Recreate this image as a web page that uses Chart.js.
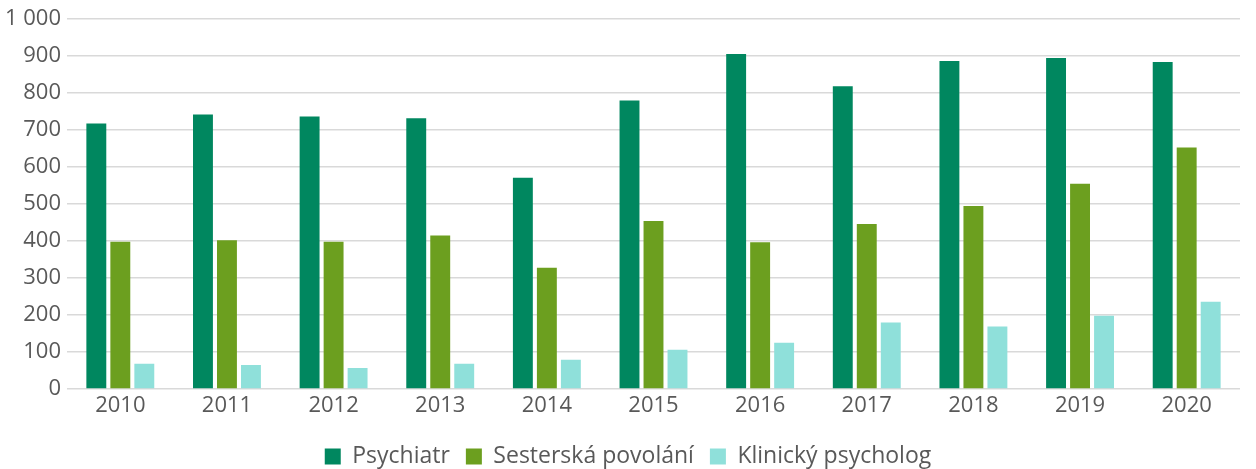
<!DOCTYPE html>
<html><head><meta charset="utf-8">
<script src="https://cdn.jsdelivr.net/npm/chart.js@4"></script>
<style>html,body{margin:0;padding:0;background:#fff}#wrap{width:1256px;height:469px}</style>
</head><body><div id="wrap"><canvas id="c"></canvas></div>
<script>
const categories = ["2010","2011","2012","2013","2014","2015","2016","2017","2018","2019","2020"];
const psychiatr = [718, 742, 737, 732, 571, 780, 906, 819, 887, 895, 884];
const sesterska = [398, 402, 398, 415, 328, 454, 397, 446, 495, 555, 653];
const klinicky = [68, 65, 57, 68, 79, 106, 125, 180, 169, 198, 236];
const seriesNames = ["Psychiatr", "Sesterská povolání", "Klinický psycholog"];
const yTicks = [0,100,200,300,400,500,600,700,800,900,1000];

const FONT = "'Open Sans', sans-serif";
const TXT = "#595959";
new Chart(document.getElementById('c'), {
  type: 'bar',
  data: {
    labels: categories,
    datasets: [
      {label: seriesNames[0], data: psychiatr, backgroundColor: '#00875F'},
      {label: seriesNames[1], data: sesterska, backgroundColor: '#6C9F1F'},
      {label: seriesNames[2], data: klinicky, backgroundColor: '#8FE0DA'}
    ]
  },
  options: {
    responsive: true, maintainAspectRatio: false, animation: false,
    datasets: {bar: {categoryPercentage: 0.675, barPercentage: 0.83}},
    layout: {padding: {left: 0, right: 0, top: 11, bottom: -9}},
    plugins: {
      tooltip: {enabled: false},
      legend: {
        position: 'bottom',
        labels: {boxWidth: 16, boxHeight: 16, padding: 16, color: TXT, font: {family: FONT, size: 23}}
      }
    },
    scales: {
      x: {
        grid: {display: false, drawTicks: false}, border: {display: false},
        afterFit: s => { s.height = 40; },
        ticks: {color: TXT, font: {family: FONT, size: 22}, padding: 4}
      },
      y: {
        min: 0, max: 1000,
        afterBuildTicks: s => { s.ticks = yTicks.map(v => ({value: v})); },
        afterFit: s => { s.width = 67; },
        grid: {color: '#D9D9D9', lineWidth: 1.6, drawTicks: false},
        border: {display: false},
        ticks: {color: TXT, font: {family: FONT, size: 22}, padding: 6,
          callback: v => String(v).replace(/\B(?=(\d{3})+(?!\d))/g, ' ')}
      },
      yRight: {
        position: 'right', display: true,
        grid: {display: false, drawTicks: false}, border: {display: false},
        ticks: {display: false},
        afterFit: s => { s.width = 16; }
      }
    }
  }
});
</script></body></html>
